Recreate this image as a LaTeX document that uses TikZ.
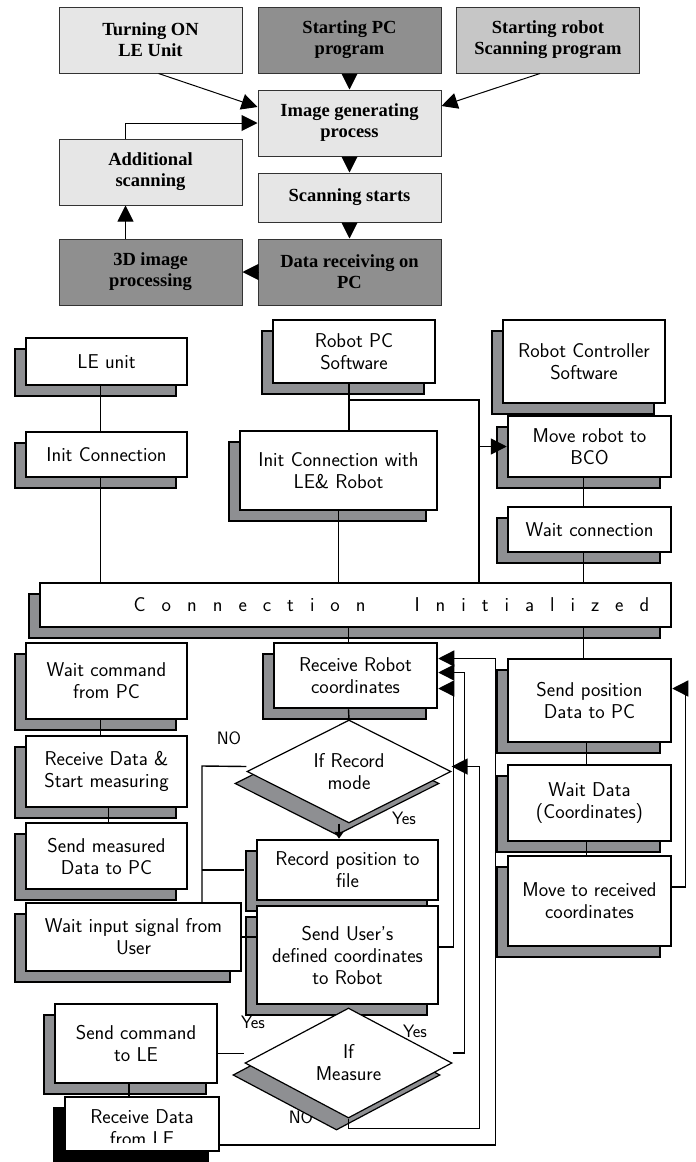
\documentclass[tikz,border=0pt]{standalone}
\usepackage{fontspec}
\newfontfamily\timesbold{Liberation Serif}
\usetikzlibrary{arrows.meta,shapes.geometric,shadows}
\definecolor{lightbox}{HTML}{E6E6E6}
\definecolor{darkbox}{HTML}{8F8F8F}
\definecolor{midbox}{HTML}{C6C6C6}
\definecolor{shade}{HTML}{8E8F92}
\newcommand{\topfont}{\timesbold\bfseries\fontsize{18.5}{21}\selectfont}
\newcommand{\flowfont}{\sffamily\fontsize{20}{22}\selectfont}
\newcommand{\lblfont}{\sffamily\fontsize{18}{20}\selectfont}
\tikzset{
  topbox/.style={draw=black!80, line width=1pt, fill=lightbox, minimum width=183pt,
    minimum height=66pt, align=center, font=\topfont},
  flowbox/.style={draw, line width=2.5pt, fill=white, align=center, inner sep=1pt, font=\flowfont,
    general shadow={shadow xshift=-11pt, shadow yshift=-11pt, fill=shade, draw=black, line width=2.5pt}},
  sz/.style 2 args={minimum width=#1pt, minimum height=#2pt},
  test/.style={diamond, aspect=2, draw, line width=1.2pt, fill=white, inner sep=0pt, align=center,
    font=\flowfont, general shadow={shadow xshift=-12pt, shadow yshift=-12pt, fill=shade, draw=black, line width=1.2pt}},
  flow/.style={line width=1.4pt},
  bigtip/.style={-{Triangle[length=16pt,width=16pt]}},
  lbl/.style={font=\lblfont, inner sep=0pt}
}
\begin{document}
\begin{tikzpicture}[x=1pt,y=-1pt]
\useasboundingbox (0,0) rectangle (696,1162);
% upper chart
\node[topbox] (tone) at (150.5,40) {Turning ON\\LE Unit};
\node[topbox, fill=darkbox] (ttwo) at (349.5,40) {Starting PC\\program};
\node[topbox, fill=midbox] (tthree) at (548,40) {Starting robot\\Scanning program};
\node[topbox] (img) at (349.5,123) {Image generating\\process};
\node[topbox] (add) at (150.5,172) {Additional\\scanning};
\node[topbox, minimum height=49pt] (ss) at (349.5,197.5) {Scanning starts};
\node[topbox, fill=darkbox] (td) at (150.5,272) {3D image\\processing};
\node[topbox, fill=darkbox] (dr) at (349.5,272) {Data receiving on\\PC};
\draw[line width=1pt,bigtip] ([xshift=8pt]tone.south) -- ([yshift=16pt]img.west);
\draw[line width=1pt,bigtip] (ttwo.south) -- (img.north);
\draw[line width=1pt,bigtip] ([xshift=-8pt]tthree.south) -- ([yshift=17pt]img.east);
\draw[line width=1pt,bigtip] ([xshift=-25pt]add.north) |- (img.west);
\draw[line width=1pt,bigtip] (img.south) -- (ss.north);
\draw[line width=1pt,bigtip] (ss.south) -- (dr.north);
\draw[line width=1pt,bigtip] (dr.west) -- (td.east);
\draw[line width=1pt,bigtip] ([xshift=-25pt]td.north) -- ([xshift=-25pt]add.south);
% lower chart
\node[flowbox, sz={161}{47}] (leu) at (106.5,361.5) {LE unit};
\node[flowbox, sz={161}{45}] (lei) at (106.5,454.5) {Init Connection};
\node[flowbox, sz={162}{63}] (rpc) at (354,351.5) {Robot PC\\Software};
\node[flowbox, sz={197}{79}] (pci) at (338.5,470.5) {Init Connection with\\LE\& Robot};
\node[flowbox, sz={162}{83}] (rcs) at (584,361.5) {Robot Controller\\Software};
\node[flowbox, sz={163}{61}] (bco) at (589.5,446.5) {Move robot to\\BCO};
\node[flowbox, sz={163}{45}] (wcn) at (589.5,529.5) {Wait connection};
\node[flowbox, sz={631}{44}] (ci) at (355.5,605)
  {\hspace*{72pt}{\spaceskip=16pt C o n n e c t i o n\hspace{49pt}I n i t i a l i z e d}};
\node[flowbox, sz={161}{76}] (wcp) at (106.5,681) {Wait command\\from PC};
\node[flowbox, sz={161}{71}] (rds) at (106.5,771.5) {Receive Data \&\\Start measuring};
\node[flowbox, sz={161}{66}] (smd) at (106.5,856) {Send measured\\Data to PC};
\node[flowbox, sz={215}{68}] (wis) at (133.5,937) {Wait input signal from\\User};
\node[flowbox, sz={162}{79}] (scl) at (136,1043.5) {Send command\\to LE};
\node[flowbox, sz={154}{54}, line width=1.2pt,
  general shadow={shadow xshift=-11pt, shadow yshift=-11pt, fill=black}] (rdl) at (142,1124)
  {\rule{0pt}{22pt}Receive Data\\from LE};
\fill[white] (67,1143) rectangle (217,1150.3);
\node[flowbox, sz={163}{65}] (rrc) at (355.5,675.5) {Receive Robot\\coordinates};
\node[lbl] (recno) at (229,738) {NO};
\node[lbl] (recyes) at (404,818) {Yes};
\node[test, minimum width=204pt, minimum height=103pt] (recdia) at (349,771.5) {If Record\\mode};
\node[flowbox, sz={181}{60}] (rpf) at (347.5,870) {Record position to\\file};
\node[flowbox, sz={181}{98}] (sud) at (347.5,955) {Send User's\\defined coordinates\\to Robot};
\node[lbl] (meayesl) at (253,1022) {Yes};
\node[lbl] (meayesr) at (415,1031) {Yes};
\node[lbl] (meano) at (301,1117) {NO};
\node[test, minimum width=207pt, minimum height=110pt] (meadia) at (348.5,1063) {If\\Measure};
\node[flowbox, sz={163}{83}] (spd) at (589.5,700.5) {Send position\\Data to PC};
\node[flowbox, sz={163}{76}] (wdc) at (589.5,803) {Wait Data\\(Coordinates)};
\node[flowbox, sz={163}{90}] (mrc) at (589.5,901) {Move to received\\coordinates};
\coordinate (pcbus) at (479,400);
\coordinate (nobus) at (202,766);
\draw[flow] ([xshift=-6pt]leu.south) -- ([xshift=-6pt]lei.north);
\draw[flow] ([xshift=-6pt]lei.south) -- ([xshift=-6pt]lei.south |- ci.north);
\draw[flow] ([xshift=-5pt]rpc.south) -- ([xshift=-5pt]rpc.south |- pci.north);
\draw[flow] ([xshift=-5pt]rpc.south |- pcbus) -- (pcbus) -- (pcbus |- ci.north);
\draw[flow,bigtip] (pcbus |- bco.west) -- (bco.west);
\draw[flow] (pci.south) -- (pci.south |- ci.north);
\draw[flow] ([xshift=-6pt]bco.south) -- ([xshift=-6pt]wcn.north);
\draw[flow] ([xshift=-6pt]wcn.south) -- ([xshift=-6pt]wcn.south |- ci.north);
\draw[flow] ([xshift=-7pt]rrc.north |- ci.south) -- ([xshift=-7pt]rrc.north);
\draw[flow] ([xshift=-6pt]spd.north |- ci.south) -- ([xshift=-6pt]spd.north);
\draw[flow] ([xshift=-6pt]wcp.south) -- ([xshift=-6pt]rds.north);
\draw[flow] ([xshift=2pt]rds.south) -- ([xshift=2pt]smd.north);
\draw[flow] ([xshift=-7pt]rrc.south) -- (recdia.north);
\draw[flow,-{Triangle[length=7pt,width=9pt]}] ([xshift=-10pt]recdia.south) -- ([xshift=-10pt]recdia.south |- rpf.north);
\draw[flow] ([yshift=5pt]recdia.west) -- (nobus) -- (nobus |- wis.north);
\draw[flow] ([xshift=-12pt]rpf.west) -- (rpf.west -| nobus);
\draw[flow] (wis.east) -- (wis.east -| sud.west);
\draw[flow,bigtip] ([yshift=8pt]sud.east) -- ++(14,0) |- ([yshift=-13pt]rrc.east);
\draw[flow,bigtip] ([yshift=10pt]meadia.east) -- ++(12,0) |- ([yshift=3pt]rrc.east);
\draw[flow,bigtip] ([yshift=-21pt]rdl.east) -- ++(276,0) |- ([yshift=17pt]rrc.east);
\draw[flow,bigtip] (meadia.south) -- ++(0,10) -- ++(131,0) |- ([yshift=5pt]recdia.east);
\draw[flow] ([yshift=-10pt]scl.east) -- ([yshift=-10pt]scl.east -| meadia.west);
\draw[flow] ([xshift=-7pt]scl.south) -- ([xshift=-7pt]scl.south |- rdl.north);
\draw[flow] ([xshift=-3pt]spd.south) -- ([xshift=-3pt]wdc.north);
\draw[flow] ([xshift=-3pt]wdc.south) -- ([xshift=-3pt]mrc.north);
\draw[flow,bigtip] ([yshift=14pt]mrc.east) -- ++(13,0) |- ([yshift=12pt]spd.east);
\end{tikzpicture}
\end{document}
